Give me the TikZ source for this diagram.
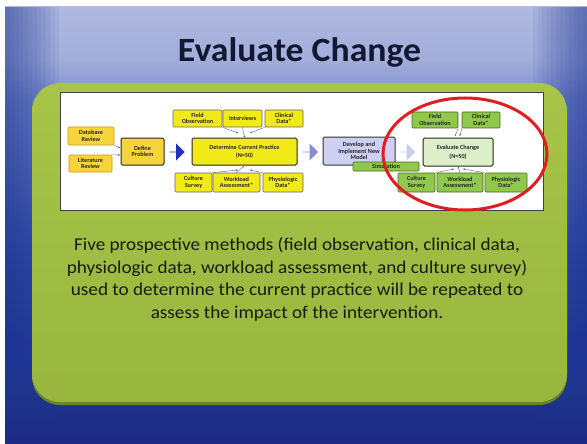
\documentclass[tikz,border=0pt]{standalone}
\usepackage{fontspec}
\setmainfont{Carlito}
\usetikzlibrary{shapes.arrows,arrows.meta}
\definecolor{bgtop}{HTML}{AEB8E0}
\definecolor{bgtopb}{HTML}{A2ADDB}
\definecolor{bgmida}{HTML}{7A8CCE}
\definecolor{bgmidb}{HTML}{3450A8}
\definecolor{bgbot}{HTML}{1C2A84}
\definecolor{bgedge}{HTML}{1E3494}
\definecolor{gtop}{HTML}{A8C54A}
\definecolor{gbot}{HTML}{98B53D}
\definecolor{gshadow}{HTML}{6A8526}
\definecolor{cgold}{HTML}{F6D53A}
\definecolor{corange}{HTML}{D9941C}
\definecolor{clemon}{HTML}{F2EA18}
\definecolor{clav}{HTML}{CDD0F0}
\definecolor{cgreen}{HTML}{8FC84A}
\definecolor{cgreenb}{HTML}{4A6A20}
\definecolor{cpale}{HTML}{DCEFC8}
\definecolor{cblue}{HTML}{2233BB}
\definecolor{cpurp}{HTML}{8C8CDC}
\definecolor{cpalear}{HTML}{C8CCEC}
\definecolor{cred}{HTML}{E01E22}
\definecolor{ctitle}{HTML}{111830}
\definecolor{cbody}{HTML}{1A1A12}
\begin{document}
\begin{tikzpicture}[x=1pt,y=-1pt,
  sz/.style 2 args={minimum width=#1pt, minimum height=#2pt},
  lbl/.style={font=\fontsize{6.2}{6.4}\selectfont\bfseries, align=center, inner sep=0pt, text=black!85},
  goldbox/.style={lbl, fill=cgold, draw=corange, line width=0.6pt, rounded corners=1pt},
  goldmain/.style={lbl, fill=cgold, draw=black!85, line width=1pt, rounded corners=1.5pt},
  lembox/.style={lbl, fill=clemon, draw=black!60, line width=0.6pt, rounded corners=1pt},
  lemmain/.style={lbl, fill=clemon, draw=black!85, line width=1pt, rounded corners=1.5pt},
  lavmain/.style={lbl, fill=clav, draw=black!80, line width=1pt, rounded corners=1.5pt},
  grnbox/.style={lbl, fill=cgreen, draw=cgreenb, line width=0.6pt, rounded corners=1pt},
  palemain/.style={lbl, fill=cpale, draw=black!85, line width=1pt, rounded corners=1.5pt},
  conn/.style={draw=black!60, line width=0.4pt, -{Stealth[length=2pt,width=2pt]}},
  blockarrow/.style={single arrow, draw=none, inner sep=0pt, minimum height=15pt, minimum width=17pt, single arrow head extend=3.5pt},
  bodyline/.style={anchor=base, inner sep=0pt, text=cbody, font=\fontsize{18}{22}\selectfont}
]
\useasboundingbox (0,0) rectangle (587,444);
\fill[white] (0,0) rectangle (587,444);
% slide background
\fill[bgmida] (5,7) rectangle (587,444);
\shade[top color=bgtop, bottom color=bgtopb] (5,7) rectangle (587,60.5);
\shade[top color=bgtopb, bottom color=bgmida] (5,60) rectangle (587,100.5);
\shade[top color=bgmida, bottom color=bgmidb] (5,100) rectangle (587,250.5);
\shade[top color=bgmidb, bottom color=bgbot] (5,250) rectangle (587,444);
\foreach \i in {1,...,12} {
  \pgfmathsetmacro{\xl}{5+4.5*\i}
  \pgfmathsetmacro{\xr}{587-4.5*\i}
  \fill[bgedge, fill opacity=0.06] (5,7) rectangle (\xl,444);
  \fill[bgedge, fill opacity=0.06] (\xr,7) rectangle (587,444);
}
% title
\node[anchor=base, inner sep=0pt, text=ctitle, font=\fontsize{34}{40}\selectfont\bfseries] (title) at (299.5,62) {\scalebox{1.05}[1]{Evaluate Change}};
% green panel
\fill[gshadow, rounded corners=28pt] (32,85) rectangle (567,405);
\shade[top color=gtop, bottom color=gbot, rounded corners=28pt] (32,83) rectangle (567,402);
% white picture panel
\draw[fill=white, draw=black!75, line width=0.8pt] (60,92) rectangle (543,210);
% left group
\node[goldbox, sz={46}{18}] (dbr) at (91,136) {Database\\Review};
\node[goldbox, sz={43}{17}] (lit) at (90.5,163.5) {Literature\\Review};
\node[goldmain, sz={43}{27}] (def) at (142.5,151.5) {Define\\Problem};
\coordinate (defa) at (120,148);
\coordinate (defb) at (120,155);
\draw[conn] (dbr.south east) -- (defa);
\draw[conn] (lit.north east) -- (defb);
\node[blockarrow, fill=cblue] (ar1) at (177,152) {};
% determine current practice
\node[lembox, sz={49}{17}] (fo1) at (197.5,118.5) {Field\\Observation};
\node[lembox, sz={39}{17}] (int) at (242.5,118.5) {Interviews};
\node[lembox, sz={38}{17}] (cd1) at (284,118.5) {Clinical\\Data*};
\node[lemmain, sz={105}{27}] (dcp) at (244.5,151.5) {Determine Current Practice\\[1.5pt](N=50)};
\node[lembox, sz={37}{19}] (cs1) at (193.5,182.5) {Culture\\Survey};
\node[lembox, sz={47}{19}] (wa1) at (236.5,182.5) {Workload\\Assessment*};
\node[lembox, sz={40}{19}] (pd1) at (283,182.5) {Physiologic\\Data*};
\coordinate (h1) at (238,133);
\coordinate (h2) at (250,133);
\coordinate (h3) at (238,170);
\coordinate (h4) at (250,170);
\draw[conn] (fo1.south east) -- (h1);
\draw[conn] (cd1.south west) -- (h2);
\draw[conn] (int.south) -- (dcp.north);
\draw[conn] (cs1.north east) -- (h3);
\draw[conn] (pd1.north west) -- (h4);
\draw[conn] (wa1.north) -- (dcp.south);
\node[blockarrow, fill=cpurp] (ar2) at (310.5,152) {};
% develop
\node[lavmain, sz={72}{28}] (dev) at (359,151) {Develop and\\Implement New\\Model};
\node[grnbox, sz={66}{9}] (sim) at (386,166.5) {Simulation};
\node[blockarrow, fill=cpalear] (ar3) at (407.5,152) {};
% evaluate change
\node[grnbox, sz={46}{16}] (fo2) at (435,120) {Field\\Observation};
\node[grnbox, sz={38}{16}] (cd2) at (481,120) {Clinical\\Data*};
\node[palemain, sz={70}{28}] (evc) at (458,152) {Evaluate Change\\[3pt](N=50)};
\node[grnbox, sz={37}{19}] (cs2) at (416.5,182.5) {Culture\\Survey};
\node[grnbox, sz={46}{19}] (wa2) at (460,182.5) {Workload\\Assessment*};
\node[grnbox, sz={42}{19}] (pd2) at (506,182.5) {Physiologic\\Data*};
\coordinate (h5) at (455,136);
\coordinate (h6) at (460,136);
\coordinate (h7) at (454,169);
\coordinate (h8) at (463,169);
\draw[conn] (fo2.south east) -- (h5);
\draw[conn] (cd2.south west) -- (h6);
\draw[conn] (cs2.north east) -- (h7);
\draw[conn] (pd2.north west) -- (h8);
\draw[conn] (wa2.north) -- (evc.south);
% red ellipse
\draw[cred, line width=3pt] (465,154) ellipse [x radius=82, y radius=56];
% body text
\node[bodyline] (l1) at (297,250) {\scalebox{1.065}[1]{Five prospective methods (field observation, clinical data,}};
\node[bodyline] (l2) at (297,273) {\scalebox{1.065}[1]{physiologic data, workload assessment, and culture survey)}};
\node[bodyline] (l3) at (297,295.5) {\scalebox{1.065}[1]{used to determine the current practice will be repeated to}};
\node[bodyline] (l4) at (297,318) {\scalebox{1.065}[1]{assess the impact of the intervention.}};
\end{tikzpicture}
\end{document}
